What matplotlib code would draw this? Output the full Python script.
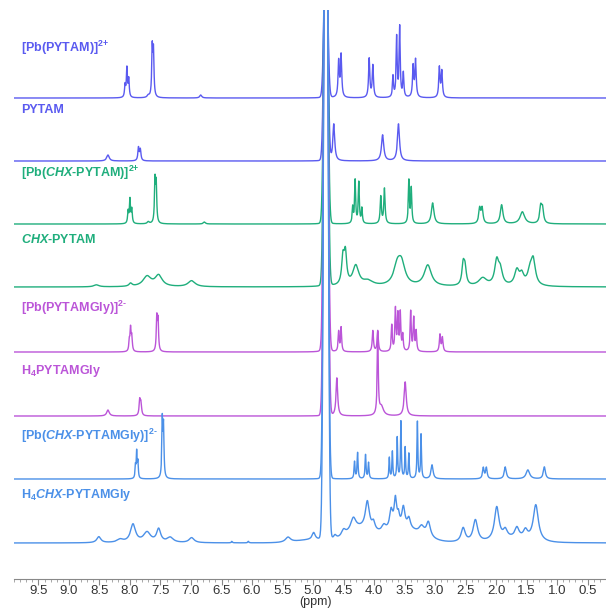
import numpy as np
import matplotlib
matplotlib.use("Agg")
import matplotlib.pyplot as plt
from matplotlib.ticker import MultipleLocator

plt.rcParams['font.family'] = ['Liberation Sans', 'DejaVu Sans']
plt.rcParams['mathtext.fontset'] = 'custom'
plt.rcParams['mathtext.rm'] = 'Liberation Sans:bold'
plt.rcParams['mathtext.bf'] = 'Liberation Sans:bold'
plt.rcParams['mathtext.it'] = 'Liberation Sans:italic:bold'

# ---------------- data ----------------
labels = [r"[Pb(PYTAM)]$^{2\text{+}}$",
          "PYTAM",
          r"[Pb($\mathit{CHX}$-PYTAM)]$^{2\text{+}}$",
          r"$\mathit{CHX}$-PYTAM",
          r"[Pb(PYTAMGly)]$^{2\text{-}}$",
          r"H$_4$PYTAMGly",
          r"[Pb($\mathit{CHX}$-PYTAMGly)]$^{2\text{-}}$",
          r"H$_4$$\mathit{CHX}$-PYTAMGly"]
colors = ["#5a5af0", "#5a5af0", "#1fae7c", "#1fae7c",
          "#bb55d8", "#bb55d8", "#4b90e8", "#4b90e8"]
offsets = [481, 418, 355, 292, 227, 163, 100, 36]
label_base_px = [52, 113, 177, 243, 312, 374, 440, 498]

# residual water signal (ppm) and its foot height per trace
water_ppm = 4.79
water_foot = [6, 4, 8, 10, 14, 5, 8, 10]

# Lorentzian peak lists: (ppm, height, half-width)
t1_ppm = [8.08, 8.05, 8.02, 7.70, 7.635, 7.615, 6.84,
          4.58, 4.54, 4.08, 4.02, 3.69, 3.63, 3.58, 3.52, 3.36, 3.32, 2.93, 2.89]
t1_h = [12, 29, 18, 2, 48, 44, 3,
        36, 42, 39, 32, 21, 60, 70, 24, 31, 37, 30, 26]
t1_w = [0.01, 0.01, 0.01, 0.02, 0.01, 0.01, 0.02,
        0.012, 0.012, 0.012, 0.012, 0.01, 0.01, 0.01, 0.01, 0.012, 0.012, 0.012, 0.012]

t2_ppm = [8.36, 7.86, 7.83, 4.66, 3.86, 3.60]
t2_h = [6, 13, 11, 37, 26, 37]
t2_w = [0.025, 0.012, 0.012, 0.018, 0.022, 0.02]

t3_ppm = [8.03, 8.00, 7.97, 7.70, 7.59, 7.57, 6.78,
          4.35, 4.31, 4.25, 4.20, 3.89, 3.83, 3.43, 3.39, 3.04,
          2.27, 2.23, 1.91, 1.57, 1.27, 1.24]
t3_h = [12, 24, 14, 2, 42, 38, 2,
        16, 43, 41, 15, 27, 35, 43, 35, 21,
        15, 15, 19, 12, 16, 14]
t3_w = [0.01, 0.01, 0.01, 0.02, 0.01, 0.01, 0.02,
        0.01, 0.01, 0.01, 0.01, 0.012, 0.012, 0.01, 0.01, 0.025,
        0.018, 0.018, 0.025, 0.045, 0.02, 0.02]

t4_ppm = [8.55, 7.99, 7.72, 7.53, 6.99,
          4.51, 4.47, 4.30, 4.10, 3.62, 3.55, 3.12,
          2.54, 2.51, 2.22, 1.99, 1.93, 1.66, 1.58, 1.44, 1.39]
t4_h = [2, 3, 10, 11, 6,
        26, 30, 20, 5, 18, 20, 21,
        20, 16, 8, 24, 14, 15, 10, 15, 22]
t4_w = [0.05, 0.03, 0.08, 0.07, 0.07,
        0.025, 0.025, 0.06, 0.1, 0.07, 0.07, 0.07,
        0.025, 0.025, 0.08, 0.04, 0.04, 0.045, 0.04, 0.05, 0.04]

t5_ppm = [8.01, 7.99, 7.97, 7.56, 7.54,
          4.58, 4.54, 4.02, 3.94, 3.71, 3.65, 3.61, 3.57, 3.53,
          3.40, 3.35, 3.31, 2.92, 2.88]
t5_h = [10, 22, 14, 33, 30,
        20, 24, 21, 21, 26, 42, 36, 38, 16,
        40, 33, 20, 17, 14]
t5_w = [0.01, 0.01, 0.01, 0.01, 0.01,
        0.01, 0.01, 0.012, 0.012, 0.01, 0.01, 0.01, 0.01, 0.01,
        0.01, 0.01, 0.01, 0.012, 0.012]

t6_ppm = [8.36, 7.84, 7.82, 4.61, 3.94, 3.88, 3.49]
t6_h = [6, 15, 12, 38, 82, 9, 34]
t6_w = [0.025, 0.012, 0.012, 0.016, 0.01, 0.04, 0.02]

t7_ppm = [7.91, 7.89, 7.87, 7.47, 7.45,
          4.32, 4.27, 4.14, 4.09, 3.75, 3.70, 3.62, 3.56, 3.49, 3.43,
          3.29, 3.23, 3.05, 2.21, 2.16, 1.85, 1.48, 1.21]
t7_h = [12, 26, 16, 57, 50,
        17, 26, 24, 16, 21, 27, 41, 57, 31, 25,
        57, 44, 14, 11, 11, 12, 9, 12]
t7_w = [0.008, 0.008, 0.008, 0.009, 0.009,
        0.009, 0.009, 0.009, 0.009, 0.008, 0.008, 0.008, 0.008, 0.008, 0.008,
        0.008, 0.008, 0.02, 0.015, 0.015, 0.02, 0.035, 0.02]

t8_ppm = [8.51, 8.16, 7.95, 7.72, 7.53, 7.34, 6.99, 6.33, 6.06, 5.41,
          4.99, 4.64, 4.50, 4.34, 4.11, 4.01, 3.84, 3.72, 3.65,
          3.60, 3.52, 3.43, 3.22, 3.11, 2.54, 2.34, 1.99, 1.85, 1.66,
          1.52, 1.35]
t8_h = [6, 3, 18, 10, 13, 5, 5, 1.5, 1.5, 5,
        7, 4, 6, 12, 28, 8, 6, 18, 28,
        10, 20, 10, 8, 15, 14, 22, 33, 8, 10,
        8, 36]
t8_w = [0.04, 0.06, 0.05, 0.07, 0.04, 0.06, 0.05, 0.01, 0.01, 0.05,
        0.03, 0.03, 0.04, 0.05, 0.04, 0.03, 0.04, 0.03, 0.025,
        0.02, 0.03, 0.03, 0.05, 0.04, 0.04, 0.045, 0.045, 0.04, 0.04,
        0.04, 0.05]
# broad envelope for the H4CHX-PYTAMGly aliphatic region (ppm, height, sigma)
t8_env_ppm = [4.25, 3.55, 5.0, 1.7]
t8_env_h = [13, 14, 3, 4]
t8_env_s = [0.2, 0.3, 0.25, 0.25]

peak_sets = [(t1_ppm, t1_h, t1_w), (t2_ppm, t2_h, t2_w), (t3_ppm, t3_h, t3_w),
             (t4_ppm, t4_h, t4_w), (t5_ppm, t5_h, t5_w), (t6_ppm, t6_h, t6_w),
             (t7_ppm, t7_h, t7_w), (t8_ppm, t8_h, t8_w)]

xticks = [9.5, 9.0, 8.5, 8.0, 7.5, 7.0, 6.5, 6.0, 5.5, 5.0, 4.5, 4.0,
          3.5, 3.0, 2.5, 2.0, 1.5, 1.0, 0.5]

# ---------------- plot ----------------
W, H = 606, 610
fig = plt.figure(figsize=(W / 100, H / 100), dpi=100)
ax = fig.add_axes([14 / W, (H - 579) / H, (W - 14) / W, (579 - 10) / H])
YTOP = 569

x = np.linspace(0.2, 9.9, 9700)


def spectrum(ppm, h, w):
    p = np.asarray(ppm)[:, None]
    hh = np.asarray(h, float)[:, None]
    ww = np.asarray(w)[:, None]
    return (hh / (1 + ((x[None, :] - p) / ww) ** 2)).sum(axis=0)


for i, (pp, hh, ww) in enumerate(peak_sets):
    y = spectrum(pp, hh, ww)
    # residual solvent line, runs off the top of the frame
    y = y + 2 * (YTOP - offsets[i]) * np.exp(-0.5 * ((x - water_ppm) / 0.028) ** 2)
    y = y + water_foot[i] / (1 + ((x - water_ppm) / 0.03) ** 2)
    if i == 7:
        for c, a, s in zip(t8_env_ppm, t8_env_h, t8_env_s):
            y = y + a * np.exp(-0.5 * ((x - c) / s) ** 2)
    ax.plot(x, offsets[i] + y, color=colors[i], lw=1.0, zorder=2 + i)
    fig.text(21 / W, 1 - label_base_px[i] / H, labels[i], color=colors[i],
             fontsize=9, fontweight='bold', va='baseline', ha='left')

ax.set_xlim(9.9, 0.2)
ax.set_ylim(0, YTOP)
for s in ['top', 'right', 'left']:
    ax.spines[s].set_visible(False)
ax.spines['bottom'].set_color('#888888')
ax.spines['bottom'].set_linewidth(0.8)
ax.set_yticks([])
ax.set_xticks(xticks)
ax.set_xticklabels([f"{t:.1f}" for t in xticks])
ax.xaxis.set_minor_locator(MultipleLocator(0.1))
ax.tick_params(axis='x', which='major', direction='out', length=4, width=0.8,
               color='#888888', labelsize=9.5, labelcolor='#333333', pad=0.5)
ax.tick_params(axis='x', which='minor', direction='out', length=2, width=0.6,
               color='#999999')
fig.text(315 / W, 1 - 602 / H, "(ppm)", fontsize=9, color='#333333',
         ha='center', va='center')

fig.savefig("out.png", dpi=100)
